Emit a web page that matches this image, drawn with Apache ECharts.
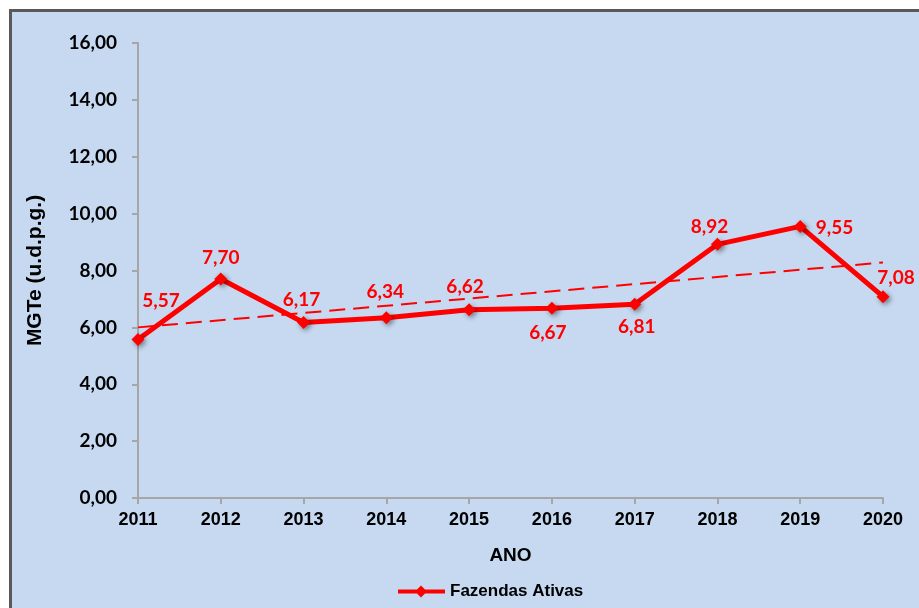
<!DOCTYPE html>
<html>
<head>
<meta charset="utf-8">
<script src="https://cdn.jsdelivr.net/npm/echarts@6/dist/echarts.min.js"></script>
<style>
html,body{margin:0;padding:0;background:#ffffff;}
#chart{width:919px;height:608px;}
</style>
</head>
<body>
<div id="chart"></div>
<script>
var categories = ['2011','2012','2013','2014','2015','2016','2017','2018','2019','2020'];
var fazendasAtivas = [5.57, 7.70, 6.17, 6.34, 6.62, 6.67, 6.81, 8.92, 9.55, 7.08];
var trendYears = ['2011', '2020'];
var trendValues = [6.00, 8.28];
var yTicks = [0, 2, 4, 6, 8, 10, 12, 14, 16];

var labelPlacement = [
  {position:'top', offset:[23,-18]},
  {position:'top', offset:[0,0]},
  {position:'top', offset:[-2,-2]},
  {position:'top', offset:[-1,-5]},
  {position:'top', offset:[-4,-2]},
  {position:'bottom', offset:[-4,4]},
  {position:'bottom', offset:[2,2]},
  {position:'top', offset:[-8,4]},
  {position:'right', offset:[4,1]},
  {position:'top', offset:[13,2]}
];

var red = '#ff0000';
var chart = echarts.init(document.getElementById('chart'), null, {renderer:'canvas'});

var lineData = fazendasAtivas.map(function(v, i){
  return {
    value: v,
    label: {
      show: true,
      position: labelPlacement[i].position,
      offset: labelPlacement[i].offset,
      formatter: function(p){ return p.value.toFixed(2).replace('.', ','); },
      color: red,
      fontFamily: 'Lato',
      fontWeight: 'bold',
      fontSize: 19
    }
  };
});

var trendData = trendYears.map(function(y, i){ return [y, trendValues[i]]; });

chart.setOption({
  animation: false,
  backgroundColor: '#ffffff',
  graphic: [{
    type: 'rect',
    silent: true,
    z: -10,
    shape: {x: 10.5, y: 10.5, width: 1000, height: 1000},
    style: {fill: '#c6d9f0', stroke: '#595959', lineWidth: 3}
  }],
  grid: {left: 138, right: 36, top: 43, bottom: 110, containLabel: false},
  legend: {
    bottom: 3,
    left: 393,
    itemWidth: 47,
    itemHeight: 12,
    itemGap: 3,
    data: [{name: 'Fazendas Ativas', icon: 'path://M0,4 L19,4 L23,0 L27,4 L47,4 L47,8 L27,8 L23,12 L19,8 L0,8 Z'}],
    textStyle: {fontFamily: 'Liberation Sans', fontWeight: 'bold', fontSize: 17, color: '#000'}
  },
  xAxis: {
    type: 'category',
    data: categories,
    boundaryGap: false,
    name: 'ANO',
    nameLocation: 'middle',
    nameGap: 48,
    nameTextStyle: {fontFamily: 'Liberation Sans', fontWeight: 'bold', fontSize: 19, color: '#000'},
    axisLine: {lineStyle: {color: '#a6a6a6', width: 2}},
    axisTick: {show: true, alignWithLabel: true, length: 6, lineStyle: {color: '#a6a6a6', width: 2}},
    axisLabel: {margin: 13, fontFamily: 'Liberation Sans', fontWeight: 'bold', fontSize: 18, color: '#000'},
    splitLine: {show: false}
  },
  yAxis: {
    type: 'value',
    min: 0,
    max: 16,
    interval: 2,
    name: 'MGTe (u.d.p.g.)',
    nameLocation: 'middle',
    nameGap: 92,
    nameRotate: 90,
    nameTextStyle: {fontFamily: 'Liberation Sans', fontWeight: 'bold', fontSize: 21, color: '#000'},
    axisLine: {show: true, lineStyle: {color: '#a6a6a6', width: 2}},
    axisTick: {show: true, length: 6, lineStyle: {color: '#a6a6a6', width: 2}},
    axisLabel: {
      margin: 21,
      fontFamily: 'Lato', fontWeight: 'bold', fontSize: 19, color: '#000',
      formatter: function(v){ return yTicks.indexOf(v) >= 0 ? v.toFixed(2).replace('.', ',') : ''; }
    },
    splitLine: {show: false}
  },
  series: [
    {
      name: 'Fazendas Ativas',
      type: 'line',
      data: lineData,
      symbol: 'diamond',
      symbolSize: 13,
      lineStyle: {color: red, width: 5},
      itemStyle: {color: red, shadowColor: 'rgba(0,0,0,0.45)', shadowBlur: 5, shadowOffsetX: 2, shadowOffsetY: 2},
      z: 3
    },
    {
      name: 'Tendência',
      type: 'line',
      data: trendData,
      symbol: 'none',
      lineStyle: {color: red, width: 2, type: [16, 8]},
      z: 2,
      silent: true
    }
  ]
});
</script>
</body>
</html>
